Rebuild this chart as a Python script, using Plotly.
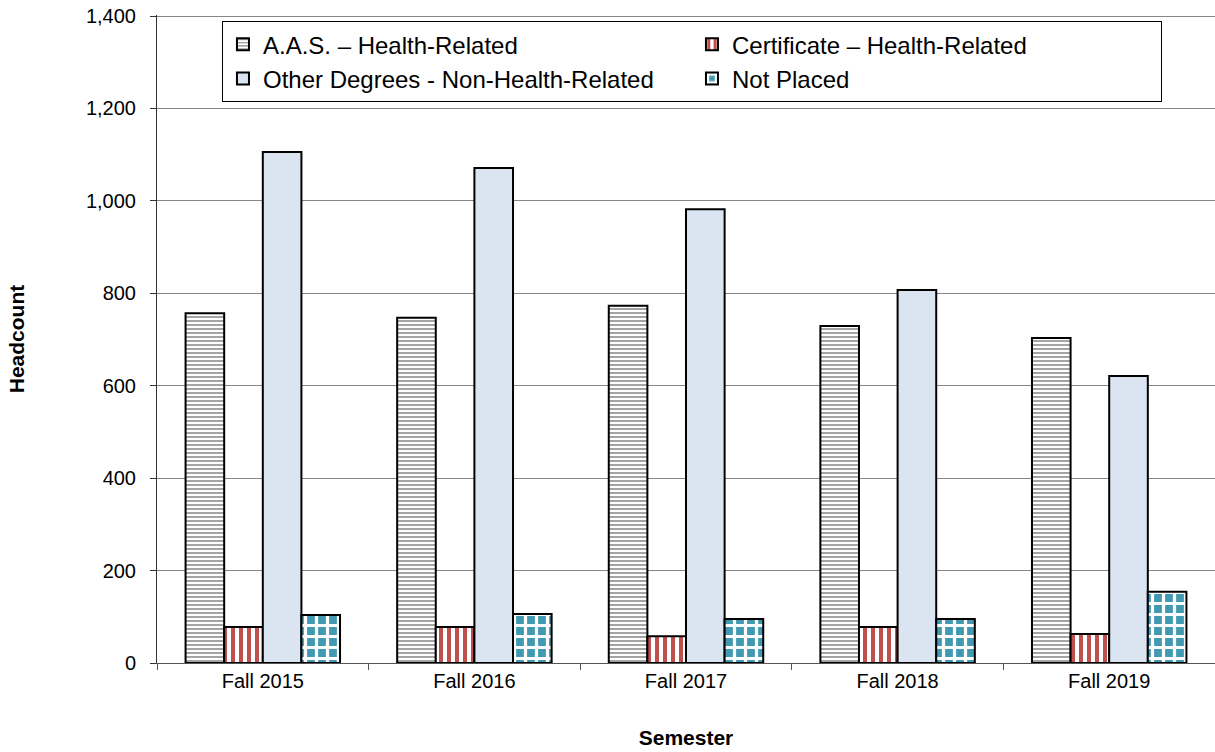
import plotly.graph_objects as go

semesters = ["Fall 2015", "Fall 2016", "Fall 2017", "Fall 2018", "Fall 2019"]
aas_health = [757, 747, 773, 729, 703]
cert_health = [78, 78, 58, 78, 63]
other_nonhealth = [1106, 1071, 982, 807, 621]
not_placed = [104, 106, 95, 95, 154]

series_names = ["A.A.S. – Health-Related", "Certificate – Health-Related",
                "Other Degrees - Non-Health-Related", "Not Placed"]

FONT = "Liberation Sans, Arial, sans-serif"

fig = go.Figure()
fig.add_trace(go.Bar(
    x=semesters, y=aas_health, name=series_names[0],
    marker=dict(color="white", line=dict(color="black", width=2),
                pattern=dict(shape="-", fgcolor="#9a9a9a", bgcolor="white",
                             size=4, solidity=0.45, fillmode="replace")),
))
fig.add_trace(go.Bar(
    x=semesters, y=cert_health, name=series_names[1],
    marker=dict(color="white", line=dict(color="black", width=2),
                pattern=dict(shape="|", fgcolor="#c0504d", bgcolor="white",
                             size=8, solidity=0.5, fillmode="replace")),
))
fig.add_trace(go.Bar(
    x=semesters, y=other_nonhealth, name=series_names[2],
    marker=dict(color="#dbe5f1", line=dict(color="black", width=2)),
))
fig.add_trace(go.Bar(
    x=semesters, y=not_placed, name=series_names[3],
    marker=dict(color="#4199b2", line=dict(color="black", width=2),
                pattern=dict(shape="+", fgcolor="white", bgcolor="#4199b2",
                             size=11, solidity=0.5, fillmode="replace")),
))

fig.update_layout(
    width=1215, height=752,
    margin=dict(l=157, r=0, t=15, b=89),
    paper_bgcolor="white", plot_bgcolor="white",
    font=dict(family=FONT, size=20, color="black"),
    barmode="group", bargap=0.27, bargroupgap=0,
    legend=dict(
        orientation="h", x=0.0614, y=0.928, xanchor="left", yanchor="middle",
        bgcolor="white", bordercolor="black", borderwidth=1,
        font=dict(family=FONT, size=24, color="black"),
        entrywidth=424, entrywidthmode="pixels",
        traceorder="normal", itemsizing="constant",
    ),
    xaxis=dict(
        automargin=False,
        showline=True, linecolor="#555555", linewidth=1,
        ticks="outside", tickson="boundaries", ticklen=6, tickcolor="#555555",
        tickfont=dict(family=FONT, size=20, color="black"),
        title=dict(text="<b>Semester</b>", font=dict(family=FONT, size=21, color="black"), standoff=39),
    ),
    yaxis=dict(
        automargin=False,
        range=[0, 1402.2], tickvals=[0, 200, 400, 600, 800, 1000, 1200, 1400], tickformat=",",
        showline=True, linecolor="#333333", linewidth=1,
        ticks="outside", ticklen=6, tickcolor="#333333",
        showgrid=True, gridcolor="#868686", gridwidth=1,
        zeroline=False,
        tickfont=dict(family=FONT, size=20, color="black"),
        ticklabelstandoff=10, ticklabeloverflow="allow",
        title=dict(text="<b>Headcount</b>", font=dict(family=FONT, size=21, color="black"), standoff=55),
    ),
)

# remove the browser's default 8px page margin so the figure fills the window
fig.write_html("out.html", config={"displayModeBar": False},
               post_script="document.body.style.margin='0';")
